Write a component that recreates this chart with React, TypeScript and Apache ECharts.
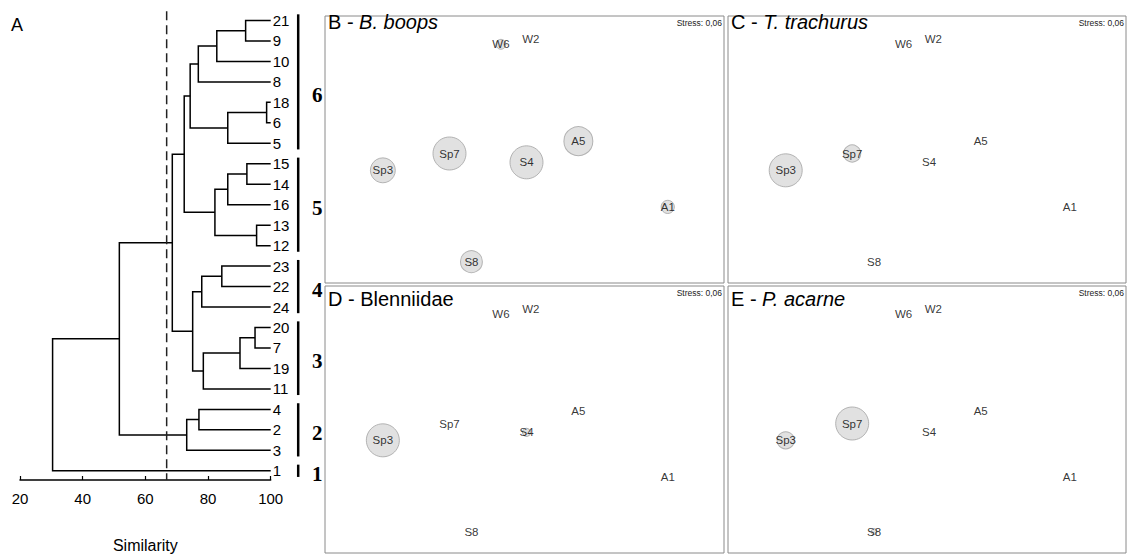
import React, { useEffect, useRef } from "react";
import * as echarts from "echarts";

// ---------- Dendrogram data ----------
const leaves = ["21", "9", "10", "8", "18", "6", "5", "15", "14", "16", "13", "12", "23", "22", "24", "20", "7", "19", "11", "4", "2", "3", "1"];
// [node id, child A, child B, similarity at merge]
const merges: [string, string, string, number][] = [
  ["n1", "21", "9", 92.0],
  ["n2", "n1", "10", 82.8],
  ["n3", "n2", "8", 76.9],
  ["n4", "18", "6", 98.7],
  ["n5", "n4", "5", 86.3],
  ["n6", "n3", "n5", 74.3],
  ["n7", "15", "14", 92.4],
  ["n8", "n7", "16", 86.3],
  ["n9", "13", "12", 95.5],
  ["n10", "n8", "n9", 82.2],
  ["n11", "n6", "n10", 72.4],
  ["n12", "23", "22", 84.4],
  ["n13", "n12", "24", 78.0],
  ["n14", "20", "7", 95.0],
  ["n15", "n14", "19", 90.2],
  ["n16", "n15", "11", 78.5],
  ["n17", "n13", "n16", 75.1],
  ["n18", "n11", "n17", 68.6],
  ["n19", "4", "2", 77.1],
  ["n20", "n19", "3", 73.2],
  ["n21", "n18", "n20", 51.7],
  ["n22", "n21", "1", 30.4],
];
const cutoff = 66.8;
const groupNames = ["6", "5", "4", "3", "2", "1"];
const groupFirstLeaf = ["21", "15", "23", "20", "4", "1"];
const groupLastLeaf = ["5", "12", "24", "11", "3", "1"];

// ---------- NMDS data ----------
const samples = ["W6", "W2", "Sp7", "Sp3", "S4", "A5", "A1", "S8"];
const nmdsX = [44.1, 51.6, 31.2, 14.5, 50.5, 63.5, 85.9, 36.7];
const nmdsY = [89.4, 91.3, 48.5, 42.2, 45.2, 53.1, 28.5, 8.0];
const abundBoops = [9, 0, 100, 57, 100, 77, 16, 44];
const abundTrachurus = [0, 0, 27, 100, 0, 0, 0, 0];
const abundBlenniidae = [0, 0, 0, 100, 6, 0, 0, 0];
const abundAcarne = [0, 0, 100, 27, 0, 0, 0, 3.3];
const panelLetters = ["B", "C", "D", "E"];
const panelTaxa = ["B. boops", "T. trachurus", "Blenniidae", "P. acarne"];
const panelItalic = [true, true, false, true];
const stressText = "Stress: 0,06";

const FONT = '"Liberation Sans", Arial, sans-serif';

export default function App() {
  const ref = useRef<HTMLDivElement>(null);

  useEffect(() => {
    document.body.style.margin = "0";
    if (!ref.current) return;
    const chart = echarts.init(ref.current, undefined, { renderer: "svg" });

    const pos: Record<string, { x: number; y: number }> = {};
    leaves.forEach((l, i) => (pos[l] = { x: 100, y: i }));
    merges.forEach(([id, a, b, s]) => {
      pos[id] = { x: s, y: (pos[a].y + pos[b].y) / 2 };
    });

    const panelGrids = [
      { left: 325, top: 16, width: 399, height: 267 },
      { left: 728, top: 16, width: 398, height: 267 },
      { left: 325, top: 286, width: 399, height: 267 },
      { left: 728, top: 286, width: 398, height: 267 },
    ];
    const titleTops = [12, 12, 289, 289];
    const abunds = [abundBoops, abundTrachurus, abundBlenniidae, abundAcarne];
    const sizeOf = (v: number) => 33 * Math.sqrt(v / 100);

    const grids: any[] = [
      { left: 20, top: 0, width: 250.7, height: 488 },
      ...panelGrids.map((g) => ({
        ...g,
        show: true,
        borderColor: "#8a8a8a",
        borderWidth: 1,
        backgroundColor: "#fff",
      })),
    ];

    const xAxes: any[] = [
      {
        gridIndex: 0,
        type: "value",
        position: "bottom",
        min: 20,
        max: 100,
        interval: 20,
        axisLine: { onZero: false, lineStyle: { color: "#000", width: 1.5 } },
        axisTick: { inside: true, length: 4, lineStyle: { color: "#000", width: 1.2 } },
        axisLabel: { fontSize: 15, color: "#000", margin: 11, fontFamily: FONT },
        splitLine: { show: false },
        name: "Similarity",
        nameLocation: "middle",
        nameGap: 57,
        nameTextStyle: { fontSize: 16, color: "#000", fontFamily: FONT },
      },
      ...panelGrids.map((_, i) => ({ gridIndex: i + 1, type: "value", min: 0, max: 100, show: false })),
    ];
    const yAxes: any[] = [
      {
        gridIndex: 0,
        type: "value",
        inverse: true,
        min: -1,
        max: 22.45,
        interval: 1,
        position: "right",
        axisLine: { show: false, onZero: false },
        axisTick: { show: false },
        splitLine: { show: false },
        axisLabel: {
          fontSize: 15,
          color: "#000",
          margin: 2,
          fontFamily: FONT,
          formatter: (v: number) => {
            const r = Math.round(v);
            return Math.abs(r - v) < 1e-6 && r >= 0 && r < leaves.length ? leaves[r] : "";
          },
        },
      },
      ...panelGrids.map((_, i) => ({ gridIndex: i + 1, type: "value", min: 0, max: 100, show: false })),
    ];

    const series: any[] = [
      {
        type: "custom",
        xAxisIndex: 0,
        yAxisIndex: 0,
        clip: false,
        data: merges.map((m) => [m[3], pos[m[0]].y]),
        renderItem: (params: any, api: any) => {
          const [, a, b, s] = merges[params.dataIndex];
          const pa = pos[a];
          const pb = pos[b];
          return {
            type: "polyline",
            shape: {
              points: [
                api.coord([pa.x, pa.y]),
                api.coord([s, pa.y]),
                api.coord([s, pb.y]),
                api.coord([pb.x, pb.y]),
              ],
            },
            style: { stroke: "#000", lineWidth: 1.5, fill: null },
          };
        },
      },
      {
        type: "line",
        xAxisIndex: 0,
        yAxisIndex: 0,
        symbol: "none",
        data: [
          [cutoff, -0.45],
          [cutoff, 22.45],
        ],
        lineStyle: { color: "#222", width: 1.5, type: [9, 5] },
      },
      {
        type: "custom",
        xAxisIndex: 0,
        yAxisIndex: 0,
        clip: false,
        data: groupNames.map((_, i) => [100, i]),
        renderItem: (params: any, api: any) => {
          const i = params.dataIndex;
          const y0 = leaves.indexOf(groupFirstLeaf[i]) - 0.3;
          const y1 = leaves.indexOf(groupLastLeaf[i]) + 0.3;
          const p0 = api.coord([100, y0]);
          const p1 = api.coord([100, y1]);
          const barX = p0[0] + 27.5;
          const mid = (p0[1] + p1[1]) / 2 + (groupNames[i] === "6" ? 13 : 3);
          return {
            type: "group",
            children: [
              {
                type: "line",
                shape: { x1: barX, y1: p0[1], x2: barX, y2: p1[1] },
                style: { stroke: "#000", lineWidth: 2.5 },
              },
              {
                type: "text",
                style: {
                  text: groupNames[i],
                  x: p0[0] + 46.5,
                  y: mid,
                  align: "center",
                  verticalAlign: "middle",
                  fontSize: 21,
                  fontWeight: "bold",
                  fontFamily: '"Liberation Serif", "Times New Roman", serif',
                  fill: "#000",
                },
              },
            ],
          };
        },
      },
      ...panelGrids.map((_, p) => ({
        type: "scatter",
        xAxisIndex: p + 1,
        yAxisIndex: p + 1,
        data: samples.map((s, i) => {
          const v = abunds[p][i];
          return {
            name: s,
            value: [nmdsX[i], nmdsY[i]],
            symbolSize: v > 0 ? sizeOf(v) : 1,
            itemStyle:
              v > 0
                ? { color: "#d9d9d9", borderColor: "#a3a3a3", borderWidth: 1 }
                : { color: "rgba(0,0,0,0)", borderWidth: 0 },
          };
        }),
        label: {
          show: true,
          position: "inside",
          formatter: "{b}",
          fontSize: 11.5,
          color: "#000",
          textBorderWidth: 0,
          fontFamily: FONT,
        },
      })),
    ];

    const titles: any[] = [
      {
        text: "A",
        left: 11,
        top: 16,
        padding: 0,
        textStyle: { fontSize: 18, fontWeight: "normal", color: "#000", fontFamily: FONT },
      },
      ...panelGrids.map((g, p) => ({
        text: panelItalic[p]
          ? `{n|${panelLetters[p]} - }{i|${panelTaxa[p]}}`
          : `{n|${panelLetters[p]} - ${panelTaxa[p]}}`,
        left: g.left + 3,
        top: titleTops[p],
        padding: 0,
        textStyle: {
          fontSize: 20,
          fontWeight: "normal",
          color: "#000",
          fontFamily: FONT,
          rich: {
            n: { fontSize: 20, color: "#000", fontFamily: FONT },
            i: { fontSize: 20, color: "#000", fontStyle: "italic", fontFamily: FONT },
          },
        },
      })),
    ];

    const graphics: any[] = panelGrids.map((g) => ({
      type: "text",
      x: g.left + g.width - 2,
      y: g.top + 7,
      style: {
        text: stressText,
        align: "right",
        verticalAlign: "middle",
        fontSize: 8.5,
        fill: "#222",
        fontFamily: FONT,
      },
    }));

    chart.setOption({
      animation: false,
      backgroundColor: "#fff",
      textStyle: { fontFamily: FONT },
      title: titles,
      grid: grids,
      xAxis: xAxes,
      yAxis: yAxes,
      series,
      graphic: graphics,
    });

    return () => chart.dispose();
  }, []);

  return <div ref={ref} style={{ width: 1128, height: 558 }} />;
}
